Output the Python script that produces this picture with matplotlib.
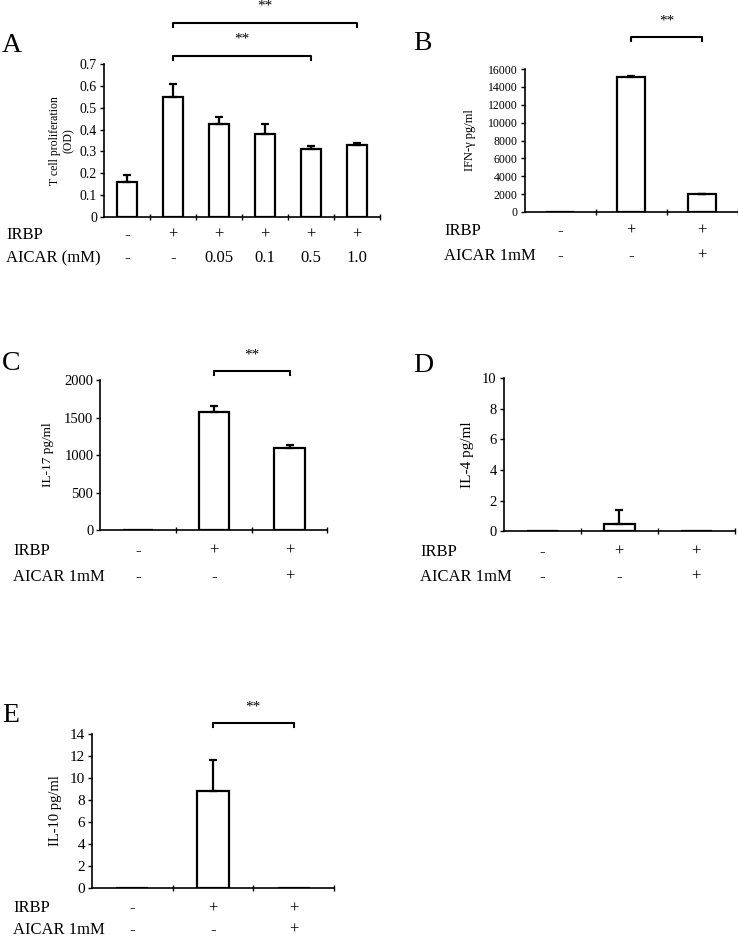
import matplotlib
matplotlib.use("Agg")
import matplotlib.pyplot as plt
import matplotlib.transforms as mtransforms

plt.rcParams['font.family'] = ['Liberation Serif', 'DejaVu Serif']

# ---------------- data ----------------
a_vals = [0.16, 0.55, 0.425, 0.38, 0.31, 0.33]
a_errs = [0.03, 0.06, 0.035, 0.045, 0.015, 0.008]
a_irbp = ['-', '+', '+', '+', '+', '+']
a_aicar = ['-', '-', '0.05', '0.1', '0.5', '1.0']
a_yticks = [0, 0.1, 0.2, 0.3, 0.4, 0.5, 0.6, 0.7]
a_yticklabels = ['0', '0.1', '0.2', '0.3', '0.4', '0.5', '0.6', '0.7']

b_vals = [30, 15050, 2000]
b_errs = [0, 150, 20]
c_vals = [5, 1580, 1100]
c_errs = [0, 70, 35]
d_vals = [0.05, 0.5, 0.0]
d_errs = [0, 0.9, 0]
e_vals = [0.02, 8.8, 0.02]
e_errs = [0, 2.8, 0]
three_irbp = ['-', '+', '+']
three_aicar = ['-', '-', '+']

b_yticks = [0, 2000, 4000, 6000, 8000, 10000, 12000, 14000, 16000]
c_yticks = [0, 500, 1000, 1500, 2000]
d_yticks = [0, 2, 4, 6, 8, 10]
e_yticks = [0, 2, 4, 6, 8, 10, 12, 14]

W, H = 738, 939
fig = plt.figure(figsize=(W / 100, H / 100), dpi=100)


def fx(px):
    return px / W


def fy(py):
    return (H - py) / H


def make_axes(left_px, right_px, bottom_px, top_px):
    return fig.add_axes([fx(left_px), fy(bottom_px), fx(right_px - left_px),
                         (bottom_px - top_px) / H])


def style(ax, n, ylim, yticks, yticklabels, tick_size, ylabel, ylabel_size, label_x_px):
    ax.set_xlim(0.5, n + 0.5)
    ax.set_ylim(*ylim)
    for s in ['top', 'right']:
        ax.spines[s].set_visible(False)
    for s in ['left', 'bottom']:
        ax.spines[s].set_linewidth(1.2)
    ax.set_xticks([i + 1.5 for i in range(n - 1)] + [n + 0.5])
    ax.set_xticklabels([])
    ax.tick_params(axis='x', direction='inout', length=4, width=1)
    ax.set_yticks(yticks)
    ax.set_yticklabels(yticklabels, fontsize=tick_size)
    ax.tick_params(axis='y', direction='out', length=3, width=1, pad=2)
    ax.set_ylabel(ylabel, fontsize=ylabel_size)
    tr = mtransforms.blended_transform_factory(fig.transFigure, ax.transAxes)
    ax.yaxis.set_label_coords(fx(label_x_px), 0.5, transform=tr)


def bars(ax, vals, errs, width):
    x = list(range(1, len(vals) + 1))
    ax.bar(x, vals, width=width, color='white', edgecolor='black', linewidth=1.6,
           zorder=2)
    for xi, v, e in zip(x, vals, errs):
        if e > 0:
            ax.errorbar([xi], [v], yerr=[[0], [e]], fmt='none', ecolor='black',
                        elinewidth=1.6, capsize=3, capthick=1.6, zorder=3)


def rows(ax, labels, rowvals, ys_px, xlab_px):
    tr = mtransforms.blended_transform_factory(ax.transData, fig.transFigure)
    for lab, vals, ypx in zip(labels, rowvals, ys_px):
        fig.text(fx(xlab_px), fy(ypx), lab, fontsize=12, va='center', ha='left')
        for i, v in enumerate(vals):
            ax.text(i + 1, fy(ypx), v, fontsize=12, va='center', ha='center',
                    transform=tr, clip_on=False)


def bracket(ax, x0, x1, y_px, star_px):
    tr = mtransforms.blended_transform_factory(ax.transData, fig.transFigure)
    yb = fy(y_px)
    d = 4 / H
    ax.plot([x0, x0, x1, x1], [yb - d, yb, yb, yb - d], color='black', lw=1.5,
            transform=tr, clip_on=False)
    ax.text((x0 + x1) / 2, fy(star_px), '**', fontsize=11, ha='center',
            va='center', transform=tr, clip_on=False)


def letter(x_px, y_px, s):
    fig.text(fx(x_px), fy(y_px), s, fontsize=20, va='center', ha='left')


# ---------------- Panel A ----------------
axA = make_axes(104, 380, 216.7, 64.3)
bars(axA, a_vals, a_errs, 0.43)
style(axA, 6, (0, 0.7), a_yticks, a_yticklabels, 10,
      'T cell proliferation\n(OD)', 8.5, 75)
rows(axA, ['IRBP', 'AICAR (mM)'], [a_irbp, a_aicar], [235, 258], 6)
bracket(axA, 2, 6, 22.7, 6)
bracket(axA, 2, 5, 56, 39)
letter(2, 45, 'A')

# ---------------- Panel B ----------------
axB = make_axes(524.7, 737.7, 212, 69)
bars(axB, b_vals, b_errs, 0.4)
style(axB, 3, (0, 16000), b_yticks, [str(v) for v in b_yticks], 8.5,
      'IFN-γ pg/ml', 9, 476)
rows(axB, ['IRBP', 'AICAR 1mM'], [three_irbp, three_aicar], [231, 256], 444)
bracket(axB, 2, 3, 37.3, 21)
letter(413, 43, 'B')

# ---------------- Panel C ----------------
axC = make_axes(100.3, 327.4, 530.3, 380)
bars(axC, c_vals, c_errs, 0.4)
style(axC, 3, (0, 2000), c_yticks, [str(v) for v in c_yticks], 10.5,
      'IL-17 pg/ml', 9.5, 54)
rows(axC, ['IRBP', 'AICAR 1mM'], [three_irbp, three_aicar], [551, 576.7], 13)
bracket(axC, 2, 3, 371, 355)
letter(2, 363, 'C')

# ---------------- Panel D ----------------
axD = make_axes(503.7, 734.7, 531.3, 378.3)
bars(axD, d_vals, d_errs, 0.4)
style(axD, 3, (0, 10), d_yticks, [str(v) for v in d_yticks], 10.5,
      'IL-4 pg/ml', 11, 474)
rows(axD, ['IRBP', 'AICAR 1mM'], [three_irbp, three_aicar], [551.7, 576.7], 420)
letter(413, 365, 'D')

# ---------------- Panel E ----------------
axE = make_axes(92, 334, 888.3, 733.7)
bars(axE, e_vals, e_errs, 0.4)
style(axE, 3, (0, 14), e_yticks, [str(v) for v in e_yticks], 11,
      'IL-10 pg/ml', 10.5, 62)
rows(axE, ['IRBP', 'AICAR 1mM'], [three_irbp, three_aicar], [908.3, 930], 13)
bracket(axE, 2, 3, 723.3, 707)
letter(2, 715, 'E')

fig.savefig('out.png', dpi=100)
